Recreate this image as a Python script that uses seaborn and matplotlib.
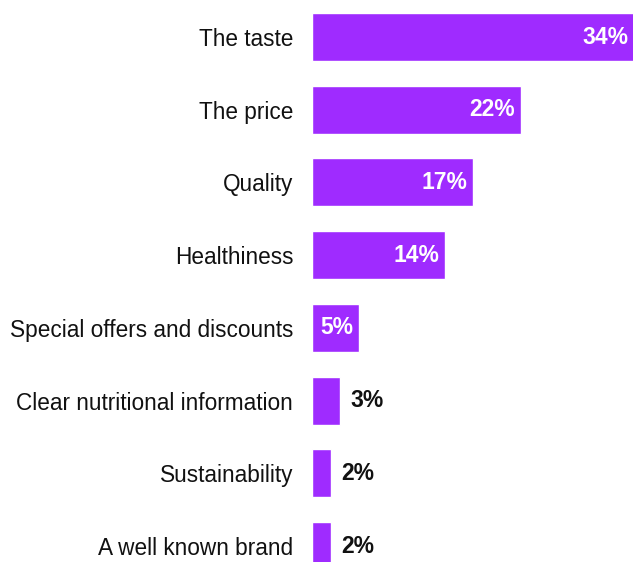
import matplotlib
matplotlib.use("Agg")
import matplotlib.pyplot as plt
import seaborn as sns
import pandas as pd

categories = [
    "The taste",
    "The price",
    "Quality",
    "Healthiness",
    "Special offers and discounts",
    "Clear nutritional information",
    "Sustainability",
    "A well known brand",
]
values = [34, 22, 17, 14, 5, 3, 2, 2]

df = pd.DataFrame({"factor": categories, "share": values})

sns.set_theme(style="white")
plt.rcParams["font.family"] = ["Liberation Sans", "DejaVu Sans"]

fig = plt.figure(figsize=(6.33, 5.62), dpi=100)
ax = fig.add_axes([312 / 633, 0, 321 / 633, 1])

bar_color = "#9F2BFF"
sns.barplot(data=df, x="share", y="factor", orient="h", color=bar_color,
            width=0.66, saturation=1, ax=ax)

px_per_unit = 321 / 33.8
ax.set_xlim(0, 33.8)
ax.set_ylim(7.22, -0.51)

for i, v in enumerate(values):
    label = f"{v}%"
    if v >= 5:
        ax.text(v - 6 / px_per_unit, i, label, ha="right", va="center",
                color="white", fontsize=16.5, fontweight="bold")
    else:
        ax.text(v + 10 / px_per_unit, i, label, ha="left", va="center",
                color="#111111", fontsize=16.5, fontweight="bold")

ax.set_xlabel("")
ax.set_ylabel("")
ax.set_xticks([])
ax.tick_params(axis="y", length=0, pad=13.5, labelsize=16.3, labelcolor="#111111")
for s in ax.spines.values():
    s.set_visible(False)

fig.savefig("out.png", dpi=100)
